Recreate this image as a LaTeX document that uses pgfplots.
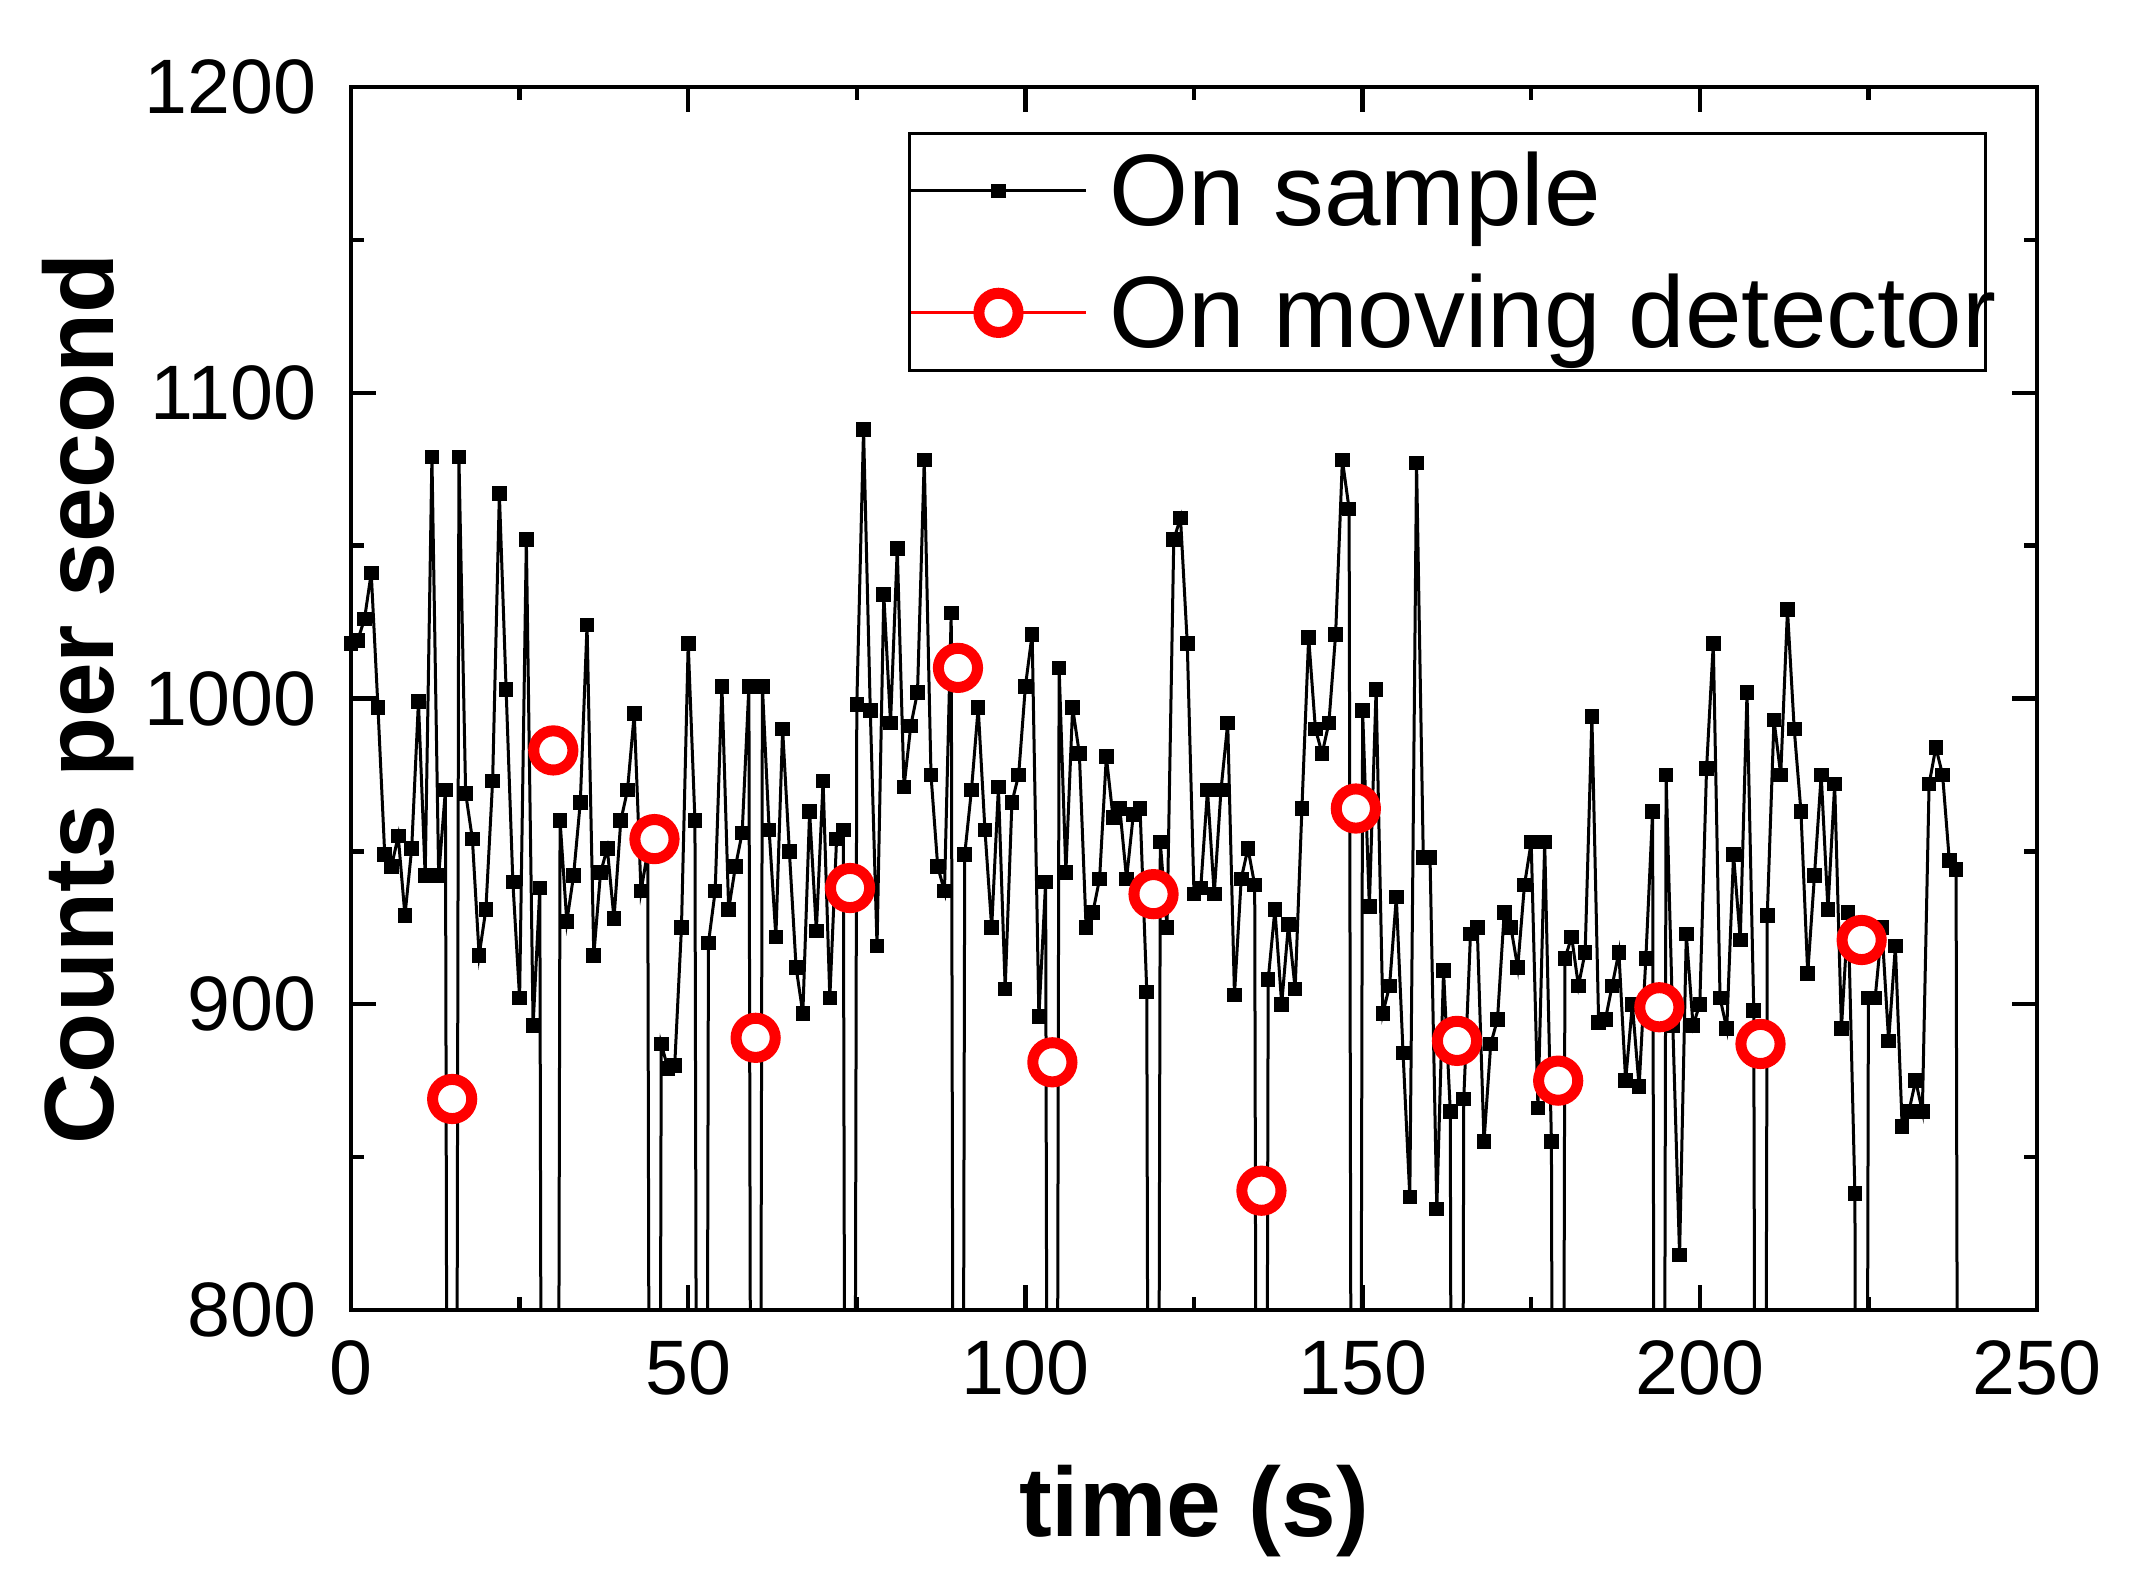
\documentclass[border=0pt]{standalone}
\usepackage{pgfplots}
\pgfplotsset{compat=1.18}
\usepackage{fontspec}
\setmainfont{Liberation Sans}
\pgfplotsset{
  legA/.style={legend image code/.code={\draw[##1, mark repeat=2, mark phase=2] plot coordinates {(0pt,0pt) (21.875pt,0pt) (43.75pt,0pt)};}},
  legB/.style={legend image code/.code={\draw[red, line width=0.8pt] (0pt,0pt) -- (43.75pt,0pt);
    \draw[##1] plot coordinates {(21.875pt,0pt)};}},
}
\begin{document}
\begin{tikzpicture}
\path[use as bounding box] (0,0) rectangle (535.5pt,395.5pt);
\begin{axis}[
  at={(87.75pt,68pt)}, anchor=south west,
  scale only axis, width=421.5pt, height=305.75pt,
  xmin=0, xmax=250, ymin=800, ymax=1200,
  xtick={0,50,...,250}, ytick={800,900,...,1200},
  minor x tick num=1, minor y tick num=1,
  tick align=inside, major tick length=6.25pt, minor tick length=3.25pt,
  every tick/.style={black, line width=1.1pt},
  axis line style={line width=1.1pt},
  /pgf/number format/assume math mode=true,
  /pgf/number format/1000 sep={},
  ticklabel style={font=\fontsize{19.3}{23}\selectfont, inner sep=0pt},
  xticklabel style={anchor=base, yshift=-21.25pt},
  yticklabel style={anchor=east, xshift=-8.5pt},
  xlabel={time (s)}, ylabel={Counts per second},
  label style={font=\fontsize{24.6}{29}\selectfont\bfseries, inner sep=0pt},
  xlabel style={at={(axis description cs:0.5,-0.18561)}, anchor=base},
  ylabel style={at={(axis description cs:-0.14116,0.5)}, anchor=base},
  legend cell align=left,
  legend style={at={(rel axis cs:1,1)}, anchor=north east, xshift=-12.5pt, yshift=-11.25pt,
    draw=black, line width=0.7pt, inner xsep=0pt, inner ysep=0pt, row sep=1.75pt, column sep=5.5pt,
    font=\fontsize{25.4}{30}\selectfont,
    nodes={inner sep=0pt, text height=23pt, text depth=5.75pt}},
]
\addplot[black, line width=0.75pt, mark=square*, mark size=1.45pt, mark options={solid}, legA]
coordinates {(0,1018)(1,1019)(2,1026)(3,1041)(4,997)(5,949)(6,945)(7,955)(8,929)(9,951)(10,999)(11,942)(12,1079)(13,942)(14,970)(15,0)(16,1079)(17,969)(18,954)(19,916)(20,931)(21,973)(22,1067)(23,1003)(24,940)(25,902)(26,1052)(27,893)(28,938)(29,0)(30,0)(31,960)(32,927)(33,942)(34,966)(35,1024)(36,916)(37,943)(38,951)(39,928)(40,960)(41,970)(42,995)(43,937)(44,950)(45,0)(46,887)(47,879)(48,880)(49,925)(50,1018)(51,960)(52,0)(53,920)(54,937)(55,1004)(56,931)(57,945)(58,956)(59,1004)(60,0)(61,1004)(62,957)(63,922)(64,990)(65,950)(66,912)(67,897)(68,963)(69,924)(70,973)(71,902)(72,954)(73,957)(74,0)(75,998)(76,1088)(77,996)(78,919)(79,1034)(80,992)(81,1049)(82,971)(83,991)(84,1002)(85,1078)(86,975)(87,945)(88,937)(89,1028)(90,0)(91,949)(92,970)(93,997)(94,957)(95,925)(96,971)(97,905)(98,966)(99,975)(100,1004)(101,1021)(102,896)(103,940)(104,0)(105,1010)(106,943)(107,997)(108,982)(109,925)(110,930)(111,941)(112,981)(113,961)(114,964)(115,941)(116,962)(117,964)(118,904)(119,0)(120,953)(121,925)(122,1052)(123,1059)(124,1018)(125,936)(126,938)(127,970)(128,936)(129,970)(130,992)(131,903)(132,941)(133,951)(134,939)(135,0)(136,908)(137,931)(138,900)(139,926)(140,905)(141,964)(142,1020)(143,990)(144,982)(145,992)(146,1021)(147,1078)(148,1062)(149,0)(150,996)(151,932)(152,1003)(153,897)(154,906)(155,935)(156,884)(157,837)(158,1077)(159,948)(160,948)(161,833)(162,911)(163,865)(164,0)(165,869)(166,923)(167,925)(168,855)(169,887)(170,895)(171,930)(172,925)(173,912)(174,939)(175,953)(176,866)(177,953)(178,855)(179,0)(180,915)(181,922)(182,906)(183,917)(184,994)(185,894)(186,895)(187,906)(188,917)(189,875)(190,900)(191,873)(192,915)(193,963)(194,0)(195,975)(196,893)(197,818)(198,923)(199,893)(200,900)(201,977)(202,1018)(203,902)(204,892)(205,949)(206,921)(207,1002)(208,898)(209,0)(210,929)(211,993)(212,975)(213,1029)(214,990)(215,963)(216,910)(217,942)(218,975)(219,931)(220,972)(221,892)(222,930)(223,838)(224,0)(225,902)(226,902)(227,925)(228,888)(229,919)(230,860)(231,865)(232,875)(233,865)(234,972)(235,984)(236,975)(237,947)(238,944)(239,0)};
\addlegendentry{On sample}
\addplot[only marks, mark=*, mark size=4.9pt, mark options={draw=red, fill=white, line width=2.75pt}, legB]
coordinates {(15,869)(30,983)(45,954)(60,889)(74,938)(90,1010)(104,881)(119,936)(135,839)(149,964)(164,888)(179,875)(194,899)(209,887)(224,921)};
\addlegendentry{\makebox[219pt][l]{On moving detector}}
\end{axis}
\end{tikzpicture}
\end{document}
